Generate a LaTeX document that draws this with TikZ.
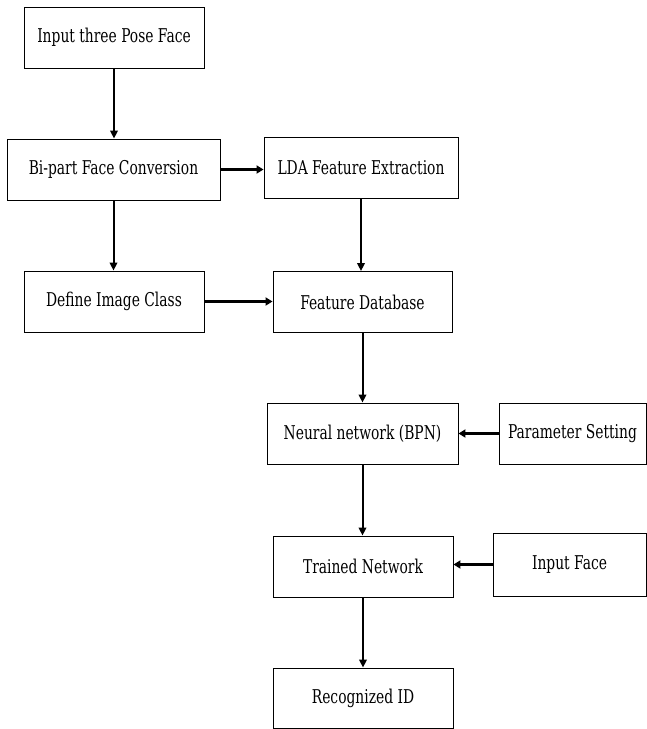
\documentclass[tikz,border=0pt]{standalone}
\usepackage{fontspec}
\setmainfont[FakeStretch=0.81]{DejaVu Serif Condensed}
\usetikzlibrary{arrows.meta}
\begin{document}
\begin{tikzpicture}[x=1pt,y=-1pt,
  boxnode/.style={draw=black,line width=0.9pt,rectangle,inner sep=0pt,
    minimum height=61pt,font=\fontsize{19}{21}\selectfont},
  vconn/.style={line width=2pt,-{Triangle[length=8pt,width=7.5pt]}},
  hconn/.style={line width=2.5pt,-{Triangle[length=7pt,width=8pt]}}]
\useasboundingbox (0,0) rectangle (647,729);
\node[boxnode,minimum width=180pt] (n1) at (114,37.5) {Input three Pose Face};
\node[boxnode,minimum width=213pt] (n2) at (113.5,169.5) {Bi-part Face Conversion};
\node[boxnode,minimum width=194pt] (n3) at (361,167.5) {LDA Feature Extraction};
\node[boxnode,minimum width=180pt] (n4) at (114,301.5) {Define Image Class};
\node[boxnode,minimum width=179pt] (n5) at (362.5,302) {Feature Database};
\node[boxnode,minimum width=191pt] (n6) at (362.5,433.5) {Neural network (BPN)};
\node[boxnode,minimum width=147pt] (n7) at (572.5,433.5) {Parameter Setting};
\node[boxnode,minimum width=180pt] (n8) at (363,566.5) {Trained Network};
\node[boxnode,minimum width=153pt,minimum height=63pt] (n9) at (569.5,564.5) {Input Face};
\node[boxnode,minimum width=180pt,minimum height=60pt] (n10) at (363,698) {Recognized ID};
\draw[vconn] (n1.south) -- (n1.south |- n2.north);
\draw[vconn] (n2.south) -- (n2.south |- n4.north);
\draw[vconn] (n3.south) -- (n3.south |- n5.north);
\draw[vconn] (n5.south) -- (n5.south |- n6.north);
\draw[vconn] (n6.south) -- (n6.south |- n8.north);
\draw[vconn] (n8.south) -- (n8.south |- n10.north);
\draw[hconn] (n2.east) -- (n2.east -| n3.west);
\draw[hconn] (n4.east) -- (n4.east -| n5.west);
\draw[hconn] (n7.west) -- (n7.west -| n6.east);
\draw[hconn] (n9.west) -- (n9.west -| n8.east);
\end{tikzpicture}
\end{document}
